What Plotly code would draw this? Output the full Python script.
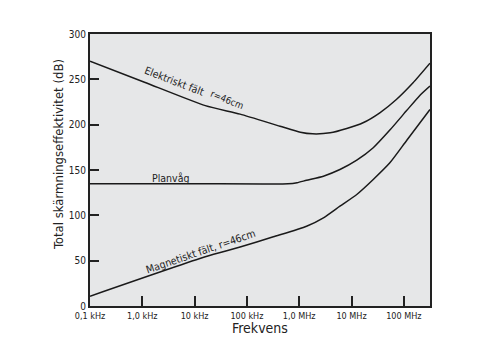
import plotly.graph_objects as go

# Frequencies in Hz
freq_el = [100, 1.1e3, 1.6e4, 7.4e4, 4.3e5, 1.05e6, 1.8e6, 3.9e6, 8.1e6, 1.66e7, 3.47e7, 7.2e7, 1.5e8, 3.16e8]
val_el = [270.0, 246.8, 221.0, 211.6, 198.3, 191.7, 189.9, 191.0, 195.8, 202.1, 213.1, 227.8, 246.2, 267.8]

freq_pl = [100, 1e4, 6.1e5, 9.1e5, 1.38e6, 2.9e6, 6.0e6, 1.26e7, 2.6e7, 5.4e7, 1.13e8, 2.0e8, 3.16e8]
val_pl = [134.8, 134.8, 134.8, 136.0, 138.7, 143.2, 150.5, 160.8, 174.5, 194.0, 215.5, 232.0, 242.6]

freq_mag = [100, 1.6e4, 7.4e4, 3.2e5, 1.38e6, 2.9e6, 6.0e6, 1.26e7, 2.6e7, 5.4e7, 1.13e8, 3.16e8]
val_mag = [10.8, 54.3, 65.0, 76.3, 88.0, 97.3, 110.1, 123.0, 139.5, 157.9, 182.5, 216.7]

x_tickvals = [1e2, 1e3, 1e4, 1e5, 1e6, 1e7, 1e8]
x_ticktext = ["0,1 kHz", "1,0 kHz", "10 kHz", "100 kHz", "1,0 MHz", "10 MHz", "100 MHz"]
y_tickvals = [0, 50, 100, 150, 200, 250, 300]

FONT = "Liberation Sans Narrow, DejaVu Sans Condensed, Liberation Sans, Arial, sans-serif"
LINE = dict(color="#1a1a1a", width=1.5)

fig = go.Figure()
for fx, fy in [(freq_el, val_el), (freq_pl, val_pl), (freq_mag, val_mag)]:
    fig.add_trace(go.Scatter(x=fx, y=fy, mode="lines", line=dict(**LINE, shape="spline", smoothing=0.6),
                             showlegend=False, hoverinfo="skip"))

fig.update_layout(
    width=487, height=350,
    margin=dict(l=90, r=57, t=34, b=44),
    paper_bgcolor="white", plot_bgcolor="#e6e7e8",
    font=dict(family=FONT, color="#222"),
    xaxis=dict(type="log", range=[2, 8.5], tickvals=x_tickvals, ticktext=x_ticktext,
               ticks="inside", ticklen=10, tickwidth=2, tickcolor="#222",
               showline=True, linewidth=2, linecolor="#222", mirror=True,
               showgrid=False, zeroline=False, tickfont=dict(size=9, family=FONT)),
    yaxis=dict(range=[0, 300], tickvals=y_tickvals,
               ticks="inside", ticklen=9, tickwidth=2, tickcolor="#222",
               showline=True, linewidth=2, linecolor="#222", mirror=True,
               showgrid=False, zeroline=False, tickfont=dict(size=10, family=FONT)),
)

ann_font = dict(size=10.5, family=FONT, color="#222")
fig.add_annotation(x=3.62, y=248, xref="x", yref="y", text="Elektriskt fält", showarrow=False,
                   textangle=21, font=ann_font)
fig.add_annotation(x=4.62, y=228, xref="x", yref="y", text="r=46cm", showarrow=False,
                   textangle=22, font=dict(size=9.5, family=FONT, color="#222"))
fig.add_annotation(x=3.53, y=141.5, xref="x", yref="y", text="Planvåg", showarrow=False,
                   font=ann_font)
fig.add_annotation(x=4.12, y=61, xref="x", yref="y", text="Magnetiskt fält, r=46cm", showarrow=False,
                   textangle=-19, font=ann_font)

fig.add_annotation(x=-0.094, y=0.555, xref="paper", yref="paper", text="Total skärmningseffektivitet (dB)",
                   showarrow=False, textangle=-90, xanchor="center", yanchor="middle",
                   font=dict(size=13, family=FONT, color="#222"))
fig.add_annotation(x=0.5, y=-0.081, xref="paper", yref="paper", text="Frekvens",
                   showarrow=False, xanchor="center", yanchor="middle",
                   font=dict(size=14, family=FONT, color="#222"))

fig.write_html("out.html")
